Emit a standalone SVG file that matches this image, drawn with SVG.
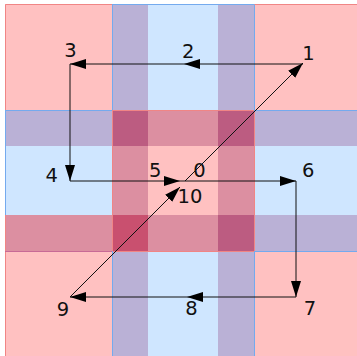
<svg xmlns="http://www.w3.org/2000/svg" width="357" height="356" viewBox="0 0 357 356">
<style>
.p{fill:#ffc1c1}.b{fill:#cfe6ff}.pu{fill:#bab1d6}.m{fill:#dc8fa1}.dm{fill:#bc5c81}.r{fill:#c9506f}
.sr{stroke:#f08585;stroke-width:1;fill:none}.sb{stroke:#74aaee;stroke-width:1;fill:none}
.c{stroke:#111;stroke-width:1;fill:none;marker-end:url(#ah)}
.l{font-family:"DejaVu Sans",sans-serif;font-size:19.5px;fill:#111;text-anchor:middle}
</style>
<defs>
<marker id="ah" markerUnits="userSpaceOnUse" markerWidth="16" markerHeight="10" refX="16" refY="5" orient="auto"><path d="M0,0 L16,5 L0,10 z" fill="#000"/></marker>
</defs>
<rect width="357" height="356" fill="#fff"/>
<g id="tiles">
<rect class="p" x="5" y="4" width="107" height="106"/>
<rect class="pu" x="112" y="4" width="36" height="106"/>
<rect class="b" x="148" y="4" width="70" height="106"/>
<rect class="pu" x="218" y="4" width="36" height="106"/>
<rect class="p" x="254" y="4" width="103" height="106"/>

<rect class="pu" x="5" y="110" width="107" height="36"/>
<rect class="dm" x="112" y="110" width="36" height="36"/>
<rect class="m" x="148" y="110" width="70" height="36"/>
<rect class="dm" x="218" y="110" width="36" height="36"/>
<rect class="pu" x="254" y="110" width="103" height="36"/>

<rect class="b" x="5" y="146" width="107" height="69"/>
<rect class="m" x="112" y="146" width="36" height="69"/>
<rect class="p" x="148" y="146" width="70" height="69"/>
<rect class="m" x="218" y="146" width="36" height="69"/>
<rect class="b" x="254" y="146" width="103" height="69"/>

<rect class="m" x="5" y="215" width="107" height="36"/>
<rect class="r" x="112" y="215" width="36" height="36"/>
<rect class="m" x="148" y="215" width="70" height="36"/>
<rect class="dm" x="218" y="215" width="36" height="36"/>
<rect class="pu" x="254" y="215" width="103" height="36"/>

<rect class="p" x="5" y="251" width="107" height="105"/>
<rect class="pu" x="112" y="251" width="36" height="105"/>
<rect class="b" x="148" y="251" width="70" height="105"/>
<rect class="pu" x="218" y="251" width="36" height="105"/>
<rect class="p" x="254" y="251" width="103" height="105"/>

<path class="sr" d="M5.5,4.5H112M254,4.5H357M5.5,4.5V110M5.5,215V356M112.5,110V251M254.5,110V251M112,110.5H254M112,251.5H254"/>
<path class="sb" d="M112,4.5H254M5.5,110V215M112.5,4.5V110M254.5,4.5V110M112.5,251V356M254.5,251V356M5,110.5H112M254,110.5H357M254,251.5H357"/>
<path d="M5,251.5H112" stroke="#c86a96" stroke-width="1" fill="none"/>
</g>
<g id="connectors">
<path class="c" d="M303,64H184"/>
<path class="c" d="M184,64H70"/>
<path class="c" d="M70,64V181"/>
<path class="c" d="M70,181H180"/>
<path class="c" d="M180,181H296"/>
<path class="c" d="M296,181V297"/>
<path class="c" d="M296,297H187"/>
<path class="c" d="M187,297H70"/>
<path class="c" d="M70,297L180,187"/>
<path class="c" d="M185,181L303,63"/>
</g>
<g id="n0"><text class="l" x="199.5" y="177">0</text></g>
<g id="n1"><text class="l" x="308.5" y="60">1</text></g>
<g id="n2"><text class="l" x="188.3" y="58">2</text></g>
<g id="n3"><text class="l" x="70.5" y="57">3</text></g>
<g id="n4"><text class="l" x="51.7" y="181.7">4</text></g>
<g id="n5"><text class="l" x="155.3" y="177">5</text></g>
<g id="n6"><text class="l" x="308.3" y="176.7">6</text></g>
<g id="n7"><text class="l" x="310" y="315">7</text></g>
<g id="n8"><text class="l" x="191.5" y="315">8</text></g>
<g id="n9"><text class="l" x="63" y="316">9</text></g>
<g id="n10"><text class="l" x="190" y="202.7">10</text></g>
</svg>
